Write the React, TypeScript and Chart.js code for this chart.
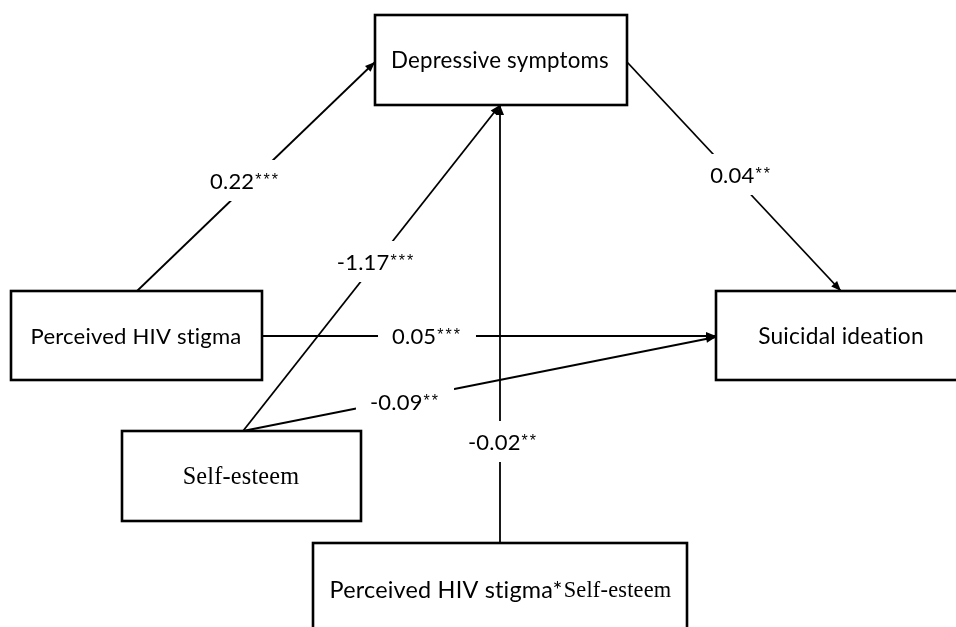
import React, { useEffect, useRef } from "react";
import { Chart, registerables } from "chart.js";

Chart.register(...registerables);

// ---- data ----
const nodeNames = [
  "Perceived HIV stigma",
  "Depressive symptoms",
  "Suicidal ideation",
  "Self-esteem",
  "Perceived HIV stigma*Self-esteem",
];
const pathFrom = [0, 1, 0, 3, 3, 4];
const pathTo = [1, 2, 2, 1, 2, 1];
const coefficients = ["0.22", "0.04", "0.05", "-1.17", "-0.09", "-0.02"];
const significance = ["***", "**", "***", "***", "**", "**"];

// ---- layout (diagram coordinate space 956 x 627) ----
const boxRects = [
  [11, 291, 262, 380],
  [375, 15, 627, 105],
  [716, 291, 968, 380],
  [122, 431, 361, 521],
  [313, 543, 687, 640],
];
// text center and target width per node
const boxTextPos = [
  [136, 337, 208],
  [500, 61, 215],
  [841, 337, 163],
  [241, 478, 115],
  [500, 590, 336],
];
const pathEnds = [
  [137, 291, 375, 62],
  [627, 62, 841, 291],
  [262, 336, 716, 336],
  [243, 431, 500, 105],
  [243, 431, 716, 337],
  [500, 543, 500, 105],
];
const labelPos = [
  [245, 181],
  [741, 175],
  [427, 336],
  [376, 262],
  [405, 402],
  [503, 442],
];

const SANS = "Lato, 'Open Sans', sans-serif";
const STAR = "'Liberation Sans', Arial, sans-serif";
const SERIF = "'Liberation Serif', 'DejaVu Serif', serif";

function fitSize(ctx: CanvasRenderingContext2D, text: string, family: string, target: number) {
  ctx.font = `100px ${family}`;
  const w = ctx.measureText(text).width;
  return (100 * target) / w;
}

const diagramPlugin = {
  id: "pathDiagram",
  afterDatasetsDraw(chart: any) {
    const ctx: any = chart.ctx;
    const xs = chart.scales.x;
    const ys = chart.scales.y;
    const px = (v: number) => xs.getPixelForValue(v);
    const py = (v: number) => ys.getPixelForValue(v);
    const hasLS = "letterSpacing" in ctx;
    ctx.save();
    if (hasLS) ctx.letterSpacing = "0.2px";

    // arrowheads
    pathFrom.forEach((_, i) => {
      const [x1, y1, x2, y2] = pathEnds[i];
      const ax = px(x2), ay = py(y2);
      const ang = Math.atan2(ay - py(y1), ax - px(x1));
      const L = 10, W = 4;
      ctx.beginPath();
      ctx.moveTo(ax, ay);
      ctx.lineTo(ax - L * Math.cos(ang) + W * Math.sin(ang), ay - L * Math.sin(ang) - W * Math.cos(ang));
      ctx.lineTo(ax - L * Math.cos(ang) - W * Math.sin(ang), ay - L * Math.sin(ang) + W * Math.cos(ang));
      ctx.closePath();
      ctx.fillStyle = "#000";
      ctx.fill();
    });

    // coefficient labels with white background
    coefficients.forEach((c, i) => {
      const cx = px(labelPos[i][0]);
      const cy = py(labelPos[i][1]);
      if (hasLS) ctx.letterSpacing = "0.2px";
      ctx.font = `22px ${SANS}`;
      const w1 = ctx.measureText(c).width;
      if (hasLS) ctx.letterSpacing = "2px";
      ctx.font = `16px ${STAR}`;
      const w2 = ctx.measureText(significance[i]).width;
      const total = w1 + w2 + 1;
      ctx.fillStyle = "#fff";
      ctx.fillRect(cx - total / 2 - 14, cy - 21, total + 28, 41);
      ctx.fillStyle = "#000";
      ctx.textBaseline = "alphabetic";
      ctx.textAlign = "left";
      if (hasLS) ctx.letterSpacing = "0.2px";
      ctx.font = `22px ${SANS}`;
      ctx.fillText(c, cx - total / 2, cy + 8);
      if (hasLS) ctx.letterSpacing = "2px";
      ctx.font = `16px ${STAR}`;
      ctx.fillText(significance[i], cx - total / 2 + w1 + 1, cy + 4);
    });
    if (hasLS) ctx.letterSpacing = "0.2px";

    // boxes
    nodeNames.forEach((name, i) => {
      const [x0, y0, x1, y1] = boxRects[i];
      const bx = px(x0), by = py(y0), bw = px(x1) - bx, bh = py(y1) - by;
      ctx.fillStyle = "#fff";
      ctx.fillRect(bx, by, bw, bh);
      ctx.lineWidth = 2.6;
      ctx.strokeStyle = "#000";
      ctx.strokeRect(bx, by, bw, bh);

      const [tx, ty, tw] = boxTextPos[i];
      ctx.fillStyle = "#000";
      ctx.textBaseline = "middle";
      if (i === 3) {
        const s = fitSize(ctx, name, SERIF, tw);
        ctx.font = `${s}px ${SERIF}`;
        ctx.textAlign = "center";
        ctx.fillText(name, px(tx), py(ty));
      } else if (i === 4) {
        const parts = name.split("*");
        const a = parts[0] + "*";
        const b = parts[1];
        const sa = fitSize(ctx, a, SANS, 230);
        const sb = fitSize(ctx, b, SERIF, 106);
        ctx.font = `${sa}px ${SANS}`;
        const wa = ctx.measureText(a).width;
        ctx.font = `${sb}px ${SERIF}`;
        const wb = ctx.measureText(b).width;
        const start = px(tx) - (wa + wb) / 2;
        ctx.textAlign = "left";
        ctx.font = `${sa}px ${SANS}`;
        ctx.fillText(a, start, py(ty));
        ctx.font = `${sb}px ${SERIF}`;
        ctx.fillText(b, start + wa + 1, py(ty) + 1);
      } else {
        const s = fitSize(ctx, name, SANS, tw);
        ctx.font = `${s}px ${SANS}`;
        ctx.textAlign = "center";
        ctx.fillText(name, px(tx), py(ty));
      }
    });
    ctx.restore();
  },
};

export default function App() {
  const ref = useRef<HTMLCanvasElement>(null);
  useEffect(() => {
    if (!ref.current) return;
    const chart = new Chart(ref.current, {
      type: "scatter",
      data: {
        datasets: pathFrom.map((f, i) => ({
          label: `${nodeNames[f]} → ${nodeNames[pathTo[i]]}`,
          data: [
            { x: pathEnds[i][0], y: pathEnds[i][1] },
            { x: pathEnds[i][2], y: pathEnds[i][3] },
          ],
          showLine: true,
          borderColor: "#000",
          backgroundColor: "#000",
          borderWidth: 1.8,
          pointRadius: 0,
          fill: false,
        })),
      },
      options: {
        animation: false,
        responsive: false,
        maintainAspectRatio: false,
        layout: { padding: 0 },
        plugins: { legend: { display: false }, tooltip: { enabled: false } },
        scales: {
          x: { type: "linear", min: 0, max: 956, display: false },
          y: { type: "linear", min: 0, max: 627, reverse: true, display: false },
        },
      },
      plugins: [diagramPlugin],
    });
    return () => chart.destroy();
  }, []);
  return (
    <div style={{ position: "absolute", left: 0, top: 0, width: 956, height: 627, background: "#fff" }}>
      <canvas ref={ref} width={956} height={627} style={{ display: "block" }} />
    </div>
  );
}
